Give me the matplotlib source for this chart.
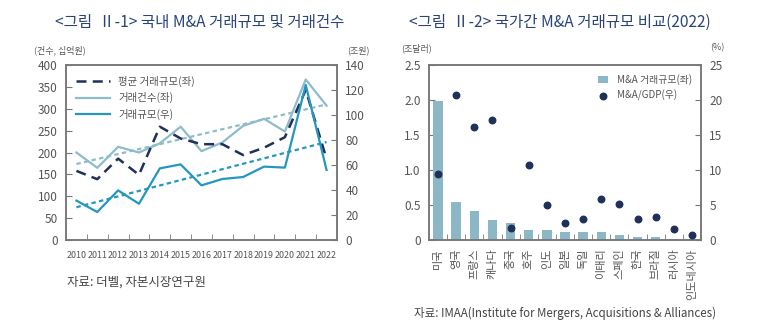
import numpy as np
import matplotlib
matplotlib.use("Agg")
import matplotlib.pyplot as plt

plt.rcParams['font.family'] = ['Noto Sans CJK KR', 'DejaVu Sans']

# ---- Left chart data ----
years = ['2010', '2011', '2012', '2013', '2014', '2015', '2016', '2017', '2018', '2019', '2020', '2021', '2022']
avg_size = [158, 139, 186, 149, 259, 232, 219, 219, 194, 211, 235, 343, 185]      # 평균 거래규모(좌)
deal_count = [200, 165, 213, 200, 221, 259, 203, 223, 261, 277, 248, 367, 307]    # 거래건수(좌)
deal_value = [31.5, 22.4, 39.7, 29.0, 57.3, 60.5, 43.7, 48.8, 50.4, 58.7, 57.9, 124.0, 56.0]  # 거래규모(우)

# ---- Right chart data ----
countries = ['미국', '영국', '프랑스', '캐나다', '중국', '호주', '인도', '일본', '독일',
             '이태리', '스페인', '한국', '브라질', '러시아', '인도네시아']
ma_value = [1.99, 0.55, 0.42, 0.28, 0.25, 0.14, 0.14, 0.12, 0.12, 0.11, 0.065, 0.05, 0.05, 0.02, 0.01]
ma_gdp = [9.5, 20.7, 16.2, 17.2, 1.75, 10.7, 5.07, 2.46, 2.94, 5.83, 5.1, 2.99, 3.27, 1.6, 0.7]

NAVY = '#1f3158'
LIGHT = '#8dbccb'
TEAL = '#2596be'
GRAY = '#777777'
TXT = '#555555'
TITLE = '#2a4478'

fig = plt.figure(figsize=(7.65, 3.36), dpi=100)
W, H = 765, 336

def px_axes(x0, y0, x1, y1):
    return fig.add_axes([x0 / W, 1 - y1 / H, (x1 - x0) / W, (y1 - y0) / H])

def style(ax, ax2):
    for a in (ax, ax2):
        for s in a.spines.values():
            s.set_color(GRAY)
            s.set_linewidth(1.1)
    ax.tick_params(axis='y', direction='in', length=4, color=GRAY, labelcolor=TXT, labelsize=8.5, pad=6)
    ax2.tick_params(axis='y', direction='in', length=4, color=GRAY, labelcolor=TXT, labelsize=8.5, pad=6)
    ax.tick_params(axis='x', which='major', length=0)
    ax.tick_params(axis='x', which='minor', direction='in', length=4, color=GRAY)

# ---------------- Left chart ----------------
ax = px_axes(66, 65, 337, 240)
ax2 = ax.twinx()
x = np.arange(len(years))

ax.plot(x, avg_size, color=NAVY, lw=1.8, dashes=(4, 2.5), label='평균 거래규모(좌)', zorder=4)
ax.plot(x, deal_count, color=LIGHT, lw=1.6, label='거래건수(좌)', zorder=3)
ln3, = ax2.plot(x, deal_value, color=TEAL, lw=1.6, label='거래규모(우)', zorder=3)

# trend lines (linear fit of the data)
c1 = np.polyfit(x, deal_count, 1)
ax.plot(x, np.polyval(c1, x), color=LIGHT, lw=1.6, ls=(0, (2, 1.5)), zorder=2)
c3 = np.polyfit(x, deal_value, 1)
ax2.plot(x, np.polyval(c3, x), color=TEAL, lw=1.6, ls=(0, (2, 1.5)), zorder=2)

ax.set_xlim(-0.5, len(years) - 0.5)
ax.set_ylim(0, 400)
ax.set_yticks(range(0, 401, 50))
ax2.set_ylim(0, 140)
ax2.set_yticks(range(0, 141, 20))
ax.set_xticks(x)
ax.set_xticklabels(years, fontsize=6.4, color=TXT)
ax.set_xticks(np.arange(0.5, len(years) - 1, 1), minor=True)
style(ax, ax2)
ax.tick_params(axis='x', pad=8)

h1, l1 = ax.get_legend_handles_labels()
leg = ax.legend(h1[:2] + [ln3], l1[:2] + ['거래규모(우)'], loc='upper left', frameon=False,
                fontsize=7.5, handlelength=3.2, labelspacing=0.55, borderaxespad=0.6,
                bbox_to_anchor=(0.0, 1.0))
for t in leg.get_texts():
    t.set_color(TXT)

fig.text(200 / W, 1 - 22 / H, '<그림  Ⅱ-1> 국내 M&A 거래규모 및 거래건수', ha='center', va='center',
         fontsize=11.2, color=TITLE)
fig.text(60 / W, 1 - 50 / H, '(건수, 십억원)', ha='center', va='center', fontsize=6.5, color=TXT)
fig.text(358 / W, 1 - 50 / H, '(조원)', ha='center', va='center', fontsize=6.5, color=TXT)
fig.text(67 / W, 1 - 282 / H, '자료: 더벨, 자본시장연구원', ha='left', va='center', fontsize=9, color='#444444')

# ---------------- Right chart ----------------
bx = px_axes(429, 65, 701, 240)
bx2 = bx.twinx()
xc = np.arange(len(countries))
bars = bx.bar(xc, ma_value, width=0.52, color='#8cb7c7', label='M&A 거래규모(좌)', zorder=2)
sc = bx2.scatter(xc, ma_gdp, s=22, color=NAVY, label='M&A/GDP(우)', zorder=3)
bx.set_xlim(-0.5, len(countries) - 0.5)
bx.set_ylim(0, 2.5)
bx.set_yticks([0, 0.5, 1.0, 1.5, 2.0, 2.5])
bx.set_yticklabels(['0', '0.5', '1.0', '1.5', '2.0', '2.5'])
bx2.set_ylim(0, 25)
bx2.set_yticks(range(0, 26, 5))
bx.set_xticks(xc)
bx.set_xticklabels(countries, rotation=90, fontsize=8, color=TXT, va='top')
bx.set_xticks(np.arange(0.5, len(countries) - 1, 1), minor=True)
style(bx, bx2)
bx.tick_params(axis='x', pad=6)

leg2 = bx.legend([bars, sc], ['M&A 거래규모(좌)', 'M&A/GDP(우)'], loc='upper right', frameon=False,
                 fontsize=7.1, handlelength=1.0, handletextpad=0.9, labelspacing=0.5,
                 borderaxespad=0.5)
for t in leg2.get_texts():
    t.set_color(TXT)

fig.text(560 / W, 1 - 22 / H, '<그림  Ⅱ-2> 국가간 M&A 거래규모 비교(2022)', ha='center', va='center',
         fontsize=11.2, color=TITLE)
fig.text(417 / W, 1 - 48 / H, '(조달러)', ha='center', va='center', fontsize=6.5, color=TXT)
fig.text(717 / W, 1 - 48 / H, '(%)', ha='center', va='center', fontsize=6.5, color=TXT)
fig.text(414 / W, 1 - 313 / H, '자료: IMAA(Institute for Mergers, Acquisitions & Alliances)', ha='left',
         va='center', fontsize=8.3, color='#444444')

fig.savefig('out.png', dpi=100)
